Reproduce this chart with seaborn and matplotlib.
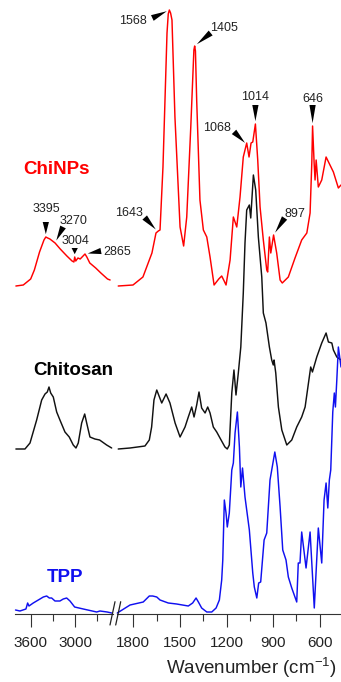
import numpy as np
import pandas as pd
import matplotlib.pyplot as plt
import seaborn as sns
from matplotlib.lines import Line2D
from matplotlib.ticker import MultipleLocator

# FTIR spectra (wavenumber in cm-1, absorbance in a.u., baseline-relative)
chinps_wn = [3800, 3700, 3600, 3550, 3480, 3420, 3395, 3370, 3340, 3270, 3200, 3110, 3040,
             3015, 3004, 2990, 2960, 2930, 2865, 2840, 2800, 2720, 2650, 2560, 2525,
             1897, 1802, 1738, 1680, 1654, 1639, 1628, 1609, 1583, 1575, 1568, 1560, 1551,
             1532, 1499, 1476, 1456, 1430, 1410, 1405, 1400, 1392, 1371, 1349, 1327, 1306,
             1280, 1250, 1231, 1215, 1203, 1177, 1156, 1134, 1113, 1092, 1070, 1055, 1042,
             1031, 1014, 999, 984, 963, 941, 935, 924, 915, 897, 877, 855, 841, 802, 759, 716,
             683, 662, 651, 646, 636, 630, 623, 609, 587, 559, 534, 512, 490, 480, 463]
chinps_abs = [0.00, 0.01, 0.07, 0.16, 0.34, 0.46, 0.49, 0.48, 0.47, 0.43, 0.37, 0.30, 0.25,
              0.24, 0.29, 0.25, 0.28, 0.27, 0.32, 0.29, 0.23, 0.18, 0.13, 0.07, 0.06,
              0.00, 0.01, 0.09, 0.33, 0.53, 0.55, 0.56, 1.19, 2.53, 2.72, 2.76, 2.73, 2.66,
              1.69, 0.59, 0.40, 0.69, 1.59, 2.36, 2.40, 2.35, 1.86, 0.86, 0.56, 0.49, 0.29,
              0.01, 0.07, 0.10, 0.05, 0.01, 0.26, 0.69, 0.59, 0.89, 1.29, 1.43, 1.29, 1.43,
              1.44, 1.62, 1.26, 0.79, 0.46, 0.16, 0.14, 0.49, 0.33, 0.51, 0.33, 0.06, 0.03,
              0.09, 0.28, 0.46, 0.53, 0.73, 1.23, 1.60, 1.23, 1.06, 1.26, 0.99, 1.06, 1.29,
              1.21, 1.14, 1.03, 0.98, 1.01]

chitosan_wn = [3800, 3677, 3609, 3519, 3451, 3406, 3375, 3352, 3329, 3294, 3248, 3204, 3136,
               3078, 3024, 2987, 2956, 2910, 2869, 2842, 2798, 2731, 2667, 2572, 2504,
               1897, 1821, 1725, 1697, 1682, 1667, 1649, 1617, 1589, 1564, 1531, 1499, 1467,
               1446, 1424, 1409, 1392, 1377, 1360, 1338, 1321, 1306, 1285, 1263, 1242, 1210,
               1195, 1182, 1166, 1152, 1139, 1124, 1108, 1092, 1081, 1070, 1053, 1044, 1027,
               1012, 995, 973, 963, 946, 924, 909, 899, 894, 883, 866, 844, 812, 780, 748, 716,
               694, 667, 658, 647, 619, 587, 559, 544, 522, 512, 490, 463]
chitosan_abs = [0.00, 0.00, 0.06, 0.29, 0.49, 0.55, 0.57, 0.62, 0.56, 0.52, 0.37, 0.29, 0.17,
                0.12, 0.04, 0.01, 0.06, 0.26, 0.35, 0.26, 0.12, 0.10, 0.09, 0.04, 0.01,
                0.00, 0.01, 0.03, 0.09, 0.22, 0.49, 0.59, 0.46, 0.55, 0.46, 0.26, 0.12, 0.22,
                0.32, 0.42, 0.32, 0.44, 0.57, 0.41, 0.36, 0.42, 0.36, 0.22, 0.17, 0.11, 0.02,
                0.00, 0.04, 0.56, 0.79, 0.54, 0.76, 1.02, 1.56, 2.06, 2.39, 2.44, 2.31, 2.74,
                2.59, 2.12, 1.72, 1.36, 1.26, 1.02, 0.89, 0.84, 0.89, 0.76, 0.42, 0.19, 0.04,
                0.09, 0.22, 0.32, 0.42, 0.72, 0.82, 0.77, 0.92, 1.06, 1.16, 1.07, 1.06, 0.99,
                0.92, 0.89]

tpp_wn = [3805, 3745, 3664, 3641, 3623, 3565, 3474, 3429, 3383, 3348, 3316, 3271, 3204, 3159,
          3113, 3068, 3005, 2888, 2707, 2662, 2565, 2504,
          1903, 1821, 1736, 1697, 1675, 1649, 1628, 1575, 1521, 1446, 1418, 1396, 1381, 1360,
          1327, 1295, 1267, 1246, 1231, 1224, 1214, 1203, 1195, 1182, 1166, 1156, 1145, 1130,
          1117, 1108, 1097, 1081, 1053, 1031, 1021, 1005, 993, 980, 958, 941, 920, 889, 873,
          855, 838, 817, 802, 780, 748, 738, 727, 716, 688, 662, 635, 609, 587, 572, 559,
          548, 538, 529, 516, 506, 499, 490, 480, 463]
tpp_abs = [0.04, 0.03, 0.05, 0.11, 0.08, 0.11, 0.15, 0.17, 0.18, 0.16, 0.16, 0.13, 0.13, 0.15,
           0.16, 0.13, 0.07, 0.05, 0.02, 0.03, 0.02, 0.01,
           0.01, 0.09, 0.12, 0.18, 0.18, 0.17, 0.14, 0.11, 0.10, 0.08, 0.11, 0.16, 0.12, 0.06,
           0.02, 0.02, 0.06, 0.14, 0.34, 0.54, 1.14, 1.01, 0.87, 1.01, 1.44, 1.51, 1.81, 2.02,
           1.67, 1.27, 1.46, 1.17, 0.84, 0.41, 0.27, 0.16, 0.31, 0.32, 0.74, 0.81, 1.34, 1.62,
           1.47, 1.07, 0.64, 0.54, 0.37, 0.26, 0.12, 0.51, 0.51, 0.82, 0.46, 0.82, 0.06, 0.86,
           0.51, 1.14, 1.31, 1.06, 1.34, 1.44, 2.02, 2.21, 2.07, 2.34, 2.67, 2.47]

sample_names = ['ChiNPs', 'Chitosan', 'TPP']
sample_colors = ['#ff0000', '#111111', '#1010f0']
stack_offsets = [3.28, 1.65, 0.0]

# labelled ChiNPs bands
peak_labels = [3395, 3270, 3004, 2865, 1643, 1568, 1405, 1068, 1014, 897, 646]

spectra = {'ChiNPs': (chinps_wn, chinps_abs),
           'Chitosan': (chitosan_wn, chitosan_abs),
           'TPP': (tpp_wn, tpp_abs)}

frames = []
for name, off in zip(sample_names, stack_offsets):
    wn, ab = spectra[name]
    frames.append(pd.DataFrame({'wn': wn, 'signal': np.array(ab) + off, 'sample': name}))
df = pd.concat(frames, ignore_index=True)
df['segment'] = np.where(df['wn'] > 2200, 'high', 'low')

sns.set_theme(style='ticks')
plt.rcParams['font.family'] = ['Liberation Sans', 'DejaVu Sans']
plt.rcParams['mathtext.fontset'] = 'custom'
plt.rcParams['mathtext.rm'] = 'Liberation Sans'
plt.rcParams['mathtext.it'] = 'Liberation Sans:italic'

W, H = 341, 682
fig = plt.figure(figsize=(W / 100, H / 100), dpi=100)
ax_hi = fig.add_axes([15 / W, 68 / H, 97.7 / W, 614 / H])
ax_lo = fig.add_axes([117.3 / W, 68 / H, 223.7 / W, 614 / H])

palette = dict(zip(sample_names, sample_colors))
for ax, seg in [(ax_hi, 'high'), (ax_lo, 'low')]:
    sns.lineplot(data=df[df['segment'] == seg], x='wn', y='signal', hue='sample',
                 palette=palette, estimator=None, legend=False, lw=1.05, ax=ax)
    for line in ax.get_lines():
        line.set_clip_on(False)
    ax.set_ylim(0, 6.14)
    ax.set_yticks([])
    ax.set_xlabel('')
    ax.set_ylabel('')
    ax.patch.set_alpha(0)
    for s in ['left', 'right', 'top']:
        ax.spines[s].set_visible(False)
    ax.spines['bottom'].set_color('#333333')
    ax.spines['bottom'].set_linewidth(0.8)
    ax.tick_params(axis='x', which='major', length=9.4, width=0.8, color='#333333',
                   labelsize=11, labelcolor='#222222', pad=6.5)
    ax.tick_params(axis='x', which='minor', length=5, width=0.8, color='#333333')

ax_hi.set_xlim(3812, 2490)
ax_hi.xaxis.set_major_locator(MultipleLocator(600))
ax_hi.xaxis.set_minor_locator(MultipleLocator(300))
ax_lo.set_xlim(1903, 463)
ax_lo.xaxis.set_major_locator(MultipleLocator(300))
ax_lo.xaxis.set_minor_locator(MultipleLocator(150))

# axis break marks
for x0 in [110, 115.7]:
    fig.add_artist(Line2D([x0 / W, (x0 + 5) / W], [1 - 625 / H, 1 - 601.7 / H],
                          color='#222222', lw=0.9))

# sample names
ax_hi.text(3254, 4.44, 'ChiNPs', color=sample_colors[0], fontsize=13.5,
           fontweight='bold', ha='center', va='center')
ax_hi.text(3021, 2.43, 'Chitosan', color='black', fontsize=13.5,
           fontweight='bold', ha='center', va='center')
ax_hi.text(3129, 0.37, 'TPP', color=sample_colors[2], fontsize=13.5,
           fontweight='bold', ha='center', va='center')

# peak annotations: tail offset and text offset in pixels from the peak
arrow_offsets = {3395: (0, 15), 3270: (8, 16), 3004: (0, 9), 2865: (16, 3),
                 1643: (-13, 14), 1568: (-17, -8), 1405: (16, 13), 1068: (-13, 13),
                 1014: (0, 19), 897: (11, 17), 646: (0, 21)}
text_offsets = {3395: (1, 28), 3270: (18, 22), 3004: (1, 16), 2865: (32, 2),
                1643: (-29, 19), 1568: (-36, -11), 1405: (29, 18), 1068: (-30, 17),
                1014: (0, 27), 897: (21, 21), 646: (0, 27)}
wn_arr = np.array(chinps_wn[::-1])
ab_arr = np.array(chinps_abs[::-1]) + stack_offsets[0]
for pk in peak_labels:
    ax = ax_hi if pk > 2200 else ax_lo
    y = np.interp(pk, wn_arr, ab_arr)
    ax.annotate('', xy=(pk, y), xytext=arrow_offsets[pk], textcoords='offset pixels',
                arrowprops=dict(arrowstyle='wedge,tail_width=0.45,shrink_factor=0.5',
                                fc='black', ec='none', shrinkA=0, shrinkB=2,
                                mutation_scale=10), annotation_clip=False)
    ax.annotate(str(pk), xy=(pk, y), xytext=text_offsets[pk], textcoords='offset pixels',
                ha='center', va='center', fontsize=9, color='#222222',
                annotation_clip=False)

fig.text(336.7 / W, 1 - 668 / H, r'Wavenumber (cm$^{-1}$)', ha='right', va='center',
         fontsize=13.5, color='#222222')

fig.savefig('out.png', dpi=100)
